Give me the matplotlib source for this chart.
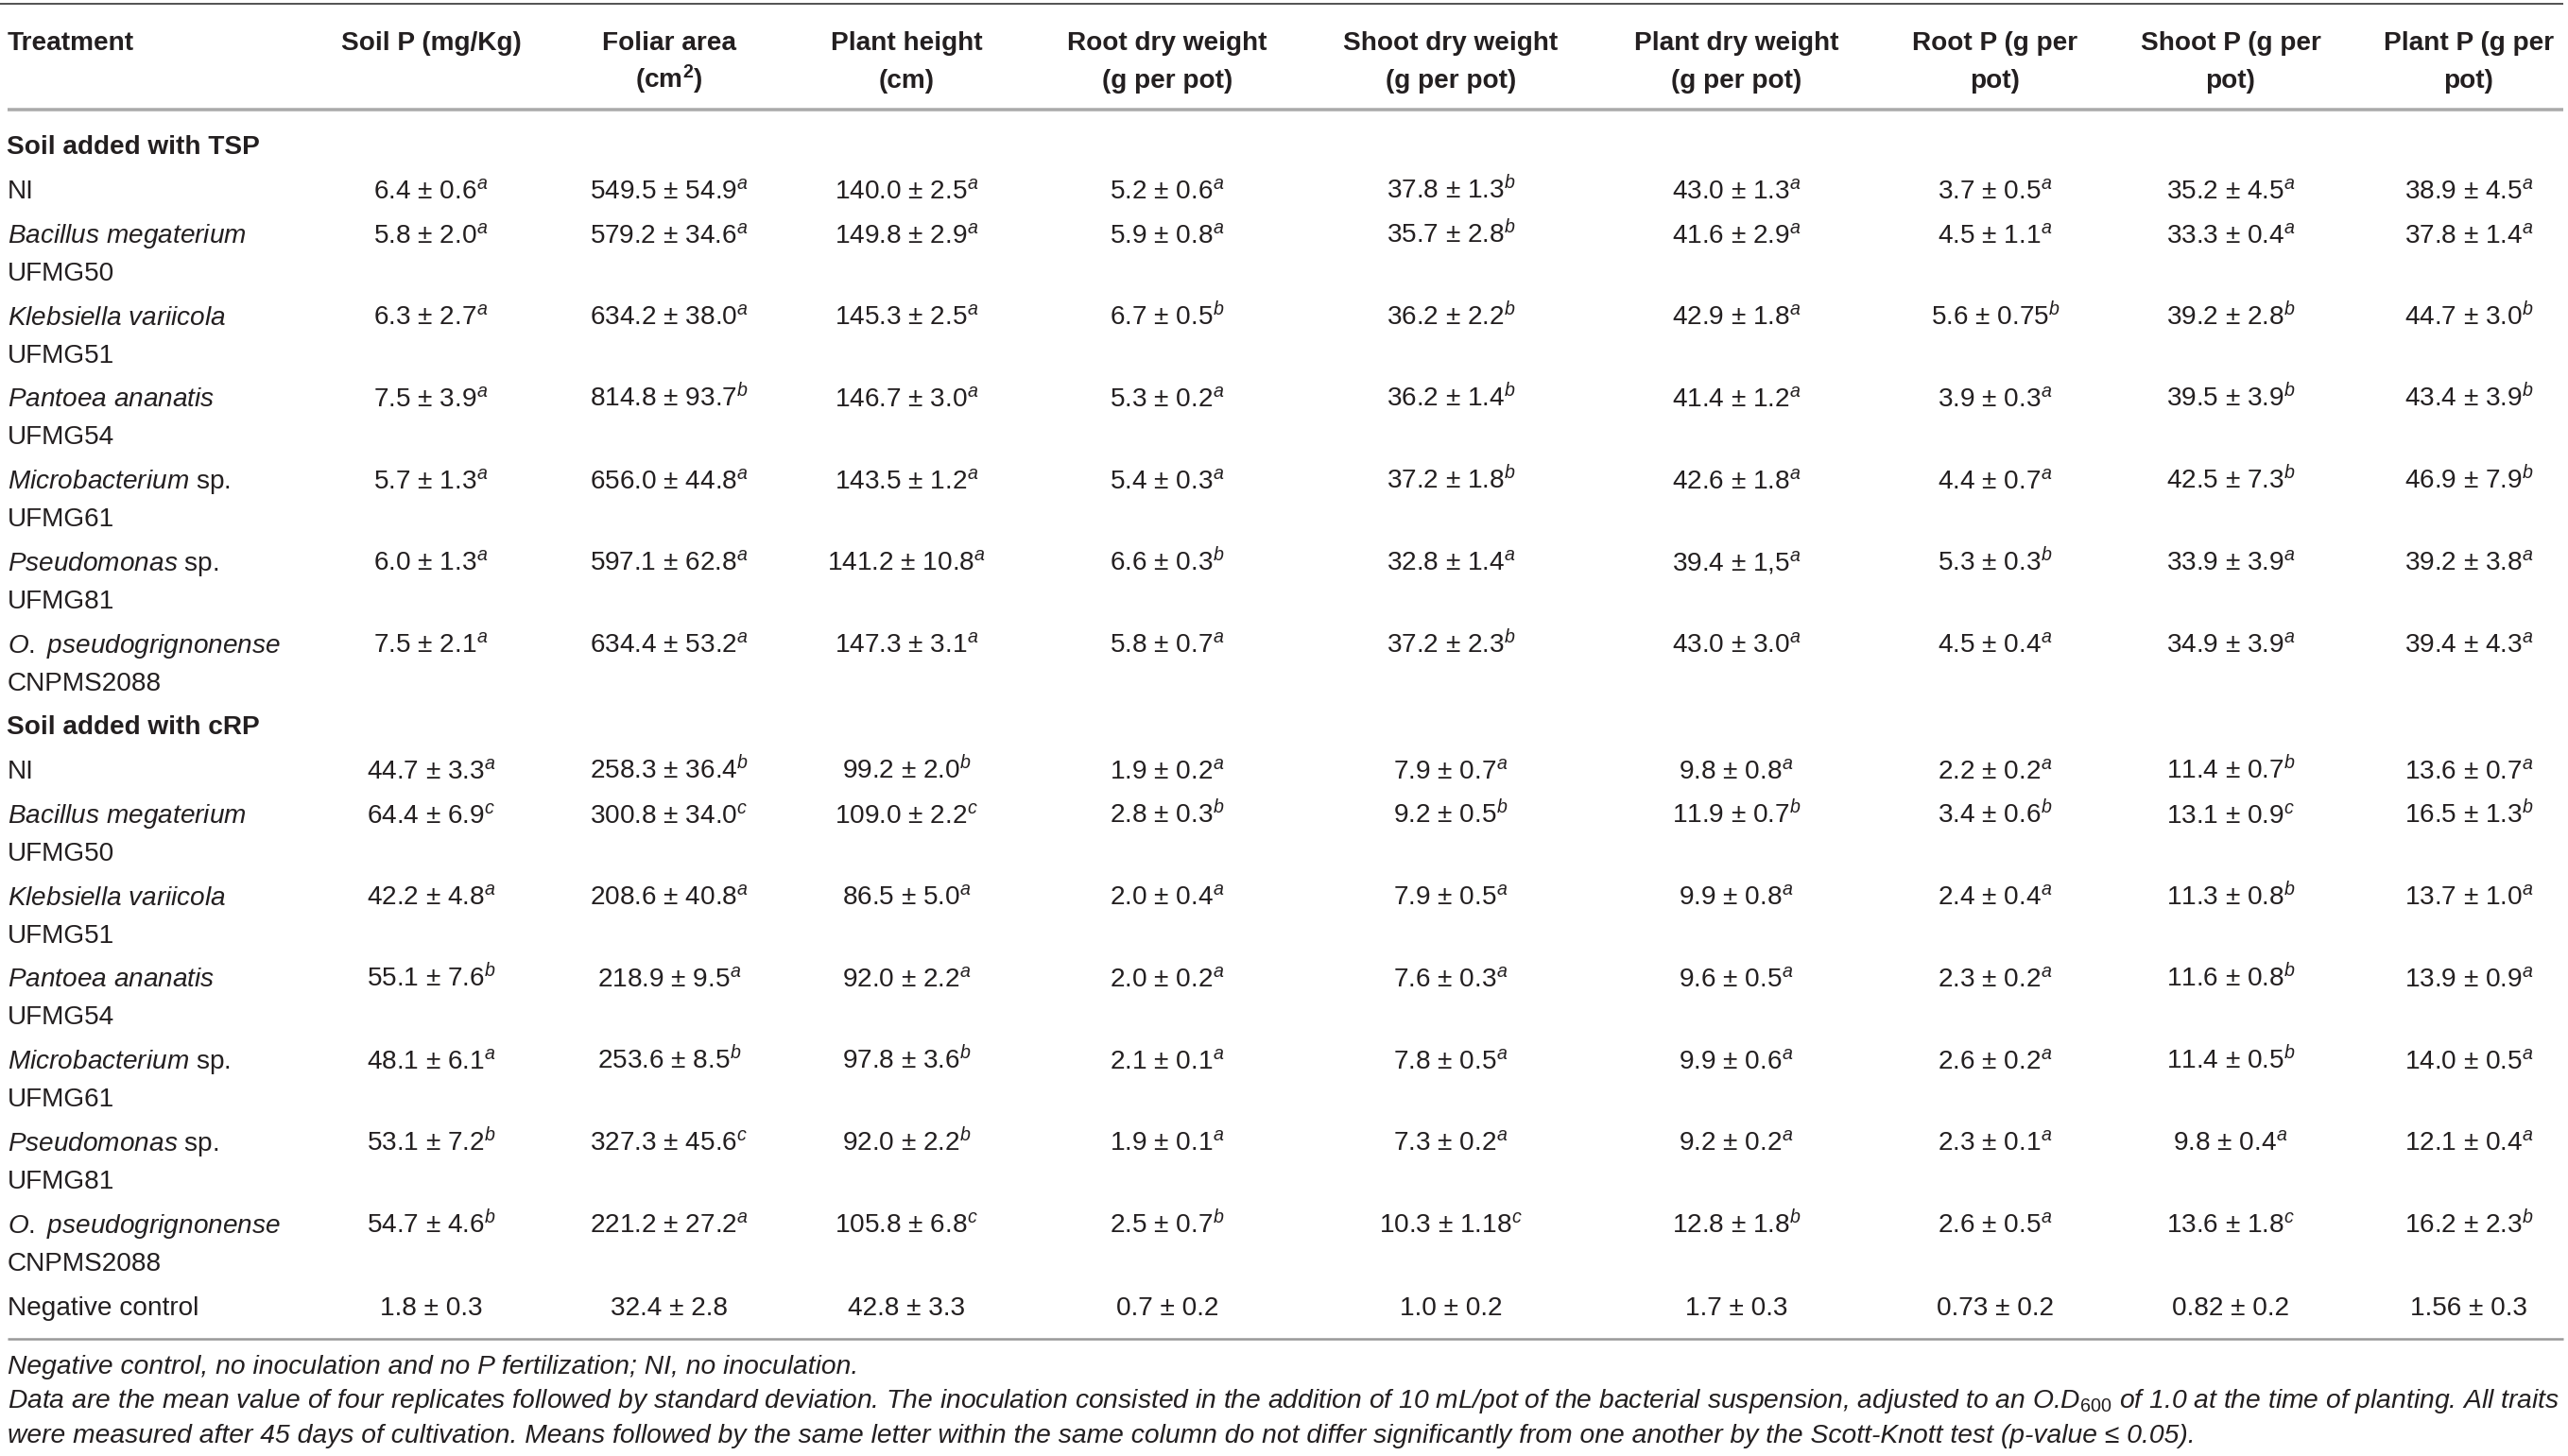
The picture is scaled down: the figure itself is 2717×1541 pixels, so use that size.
import matplotlib
matplotlib.use("Agg")
import matplotlib.pyplot as plt

plt.rcParams['font.family'] = ['Liberation Sans', 'DejaVu Sans']
plt.rcParams['mathtext.fontset'] = 'custom'
plt.rcParams['mathtext.rm'] = 'Liberation Sans'
plt.rcParams['mathtext.it'] = 'Liberation Sans:italic'
plt.rcParams['mathtext.bf'] = 'Liberation Sans:bold'
plt.rcParams['mathtext.default'] = 'it'

# ---------------- data ----------------
header_line1 = ["Soil P (mg/Kg)", "Foliar area", "Plant height", "Root dry weight",
                "Shoot dry weight", "Plant dry weight", "Root P (g per", "Shoot P (g per",
                "Plant P (g per"]
header_line2 = ["", r"(cm$^{\mathbf{2}}$)", "(cm)", "(g per pot)", "(g per pot)",
                "(g per pot)", "pot)", "pot)", "pot)"]

section_titles = ["Soil added with TSP", "Soil added with cRP"]

# treatment name (line 1, mathtext allowed), strain (line 2)
treat_line1 = ["NI", r"$\mathit{Bacillus\ megaterium}$", r"$\mathit{Klebsiella\ variicola}$",
               r"$\mathit{Pantoea\ ananatis}$", r"$\mathit{Microbacterium}$ sp.",
               r"$\mathit{Pseudomonas}$ sp.", r"$\mathit{O.\ pseudogrignonense}$"]
treat_line2 = ["", "UFMG50", "UFMG51", "UFMG54", "UFMG61", "UFMG81", "CNPMS2088"]
negative_label = "Negative control"

# each column: 7 TSP rows, 7 cRP rows, negative control (mean, sd, letter)
soil_p = [("6.4", "0.6", "a"), ("5.8", "2.0", "a"), ("6.3", "2.7", "a"), ("7.5", "3.9", "a"),
          ("5.7", "1.3", "a"), ("6.0", "1.3", "a"), ("7.5", "2.1", "a"),
          ("44.7", "3.3", "a"), ("64.4", "6.9", "c"), ("42.2", "4.8", "a"), ("55.1", "7.6", "b"),
          ("48.1", "6.1", "a"), ("53.1", "7.2", "b"), ("54.7", "4.6", "b"),
          ("1.8", "0.3", "")]
foliar_area = [("549.5", "54.9", "a"), ("579.2", "34.6", "a"), ("634.2", "38.0", "a"),
               ("814.8", "93.7", "b"), ("656.0", "44.8", "a"), ("597.1", "62.8", "a"),
               ("634.4", "53.2", "a"),
               ("258.3", "36.4", "b"), ("300.8", "34.0", "c"), ("208.6", "40.8", "a"),
               ("218.9", "9.5", "a"), ("253.6", "8.5", "b"), ("327.3", "45.6", "c"),
               ("221.2", "27.2", "a"),
               ("32.4", "2.8", "")]
plant_height = [("140.0", "2.5", "a"), ("149.8", "2.9", "a"), ("145.3", "2.5", "a"),
                ("146.7", "3.0", "a"), ("143.5", "1.2", "a"), ("141.2", "10.8", "a"),
                ("147.3", "3.1", "a"),
                ("99.2", "2.0", "b"), ("109.0", "2.2", "c"), ("86.5", "5.0", "a"),
                ("92.0", "2.2", "a"), ("97.8", "3.6", "b"), ("92.0", "2.2", "b"),
                ("105.8", "6.8", "c"),
                ("42.8", "3.3", "")]
root_dry = [("5.2", "0.6", "a"), ("5.9", "0.8", "a"), ("6.7", "0.5", "b"), ("5.3", "0.2", "a"),
            ("5.4", "0.3", "a"), ("6.6", "0.3", "b"), ("5.8", "0.7", "a"),
            ("1.9", "0.2", "a"), ("2.8", "0.3", "b"), ("2.0", "0.4", "a"), ("2.0", "0.2", "a"),
            ("2.1", "0.1", "a"), ("1.9", "0.1", "a"), ("2.5", "0.7", "b"),
            ("0.7", "0.2", "")]
shoot_dry = [("37.8", "1.3", "b"), ("35.7", "2.8", "b"), ("36.2", "2.2", "b"), ("36.2", "1.4", "b"),
             ("37.2", "1.8", "b"), ("32.8", "1.4", "a"), ("37.2", "2.3", "b"),
             ("7.9", "0.7", "a"), ("9.2", "0.5", "b"), ("7.9", "0.5", "a"), ("7.6", "0.3", "a"),
             ("7.8", "0.5", "a"), ("7.3", "0.2", "a"), ("10.3", "1.18", "c"),
             ("1.0", "0.2", "")]
plant_dry = [("43.0", "1.3", "a"), ("41.6", "2.9", "a"), ("42.9", "1.8", "a"), ("41.4", "1.2", "a"),
             ("42.6", "1.8", "a"), ("39.4", "1,5", "a"), ("43.0", "3.0", "a"),
             ("9.8", "0.8", "a"), ("11.9", "0.7", "b"), ("9.9", "0.8", "a"), ("9.6", "0.5", "a"),
             ("9.9", "0.6", "a"), ("9.2", "0.2", "a"), ("12.8", "1.8", "b"),
             ("1.7", "0.3", "")]
root_p = [("3.7", "0.5", "a"), ("4.5", "1.1", "a"), ("5.6", "0.75", "b"), ("3.9", "0.3", "a"),
          ("4.4", "0.7", "a"), ("5.3", "0.3", "b"), ("4.5", "0.4", "a"),
          ("2.2", "0.2", "a"), ("3.4", "0.6", "b"), ("2.4", "0.4", "a"), ("2.3", "0.2", "a"),
          ("2.6", "0.2", "a"), ("2.3", "0.1", "a"), ("2.6", "0.5", "a"),
          ("0.73", "0.2", "")]
shoot_p = [("35.2", "4.5", "a"), ("33.3", "0.4", "a"), ("39.2", "2.8", "b"), ("39.5", "3.9", "b"),
           ("42.5", "7.3", "b"), ("33.9", "3.9", "a"), ("34.9", "3.9", "a"),
           ("11.4", "0.7", "b"), ("13.1", "0.9", "c"), ("11.3", "0.8", "b"), ("11.6", "0.8", "b"),
           ("11.4", "0.5", "b"), ("9.8", "0.4", "a"), ("13.6", "1.8", "c"),
           ("0.82", "0.2", "")]
plant_p = [("38.9", "4.5", "a"), ("37.8", "1.4", "a"), ("44.7", "3.0", "b"), ("43.4", "3.9", "b"),
           ("46.9", "7.9", "b"), ("39.2", "3.8", "a"), ("39.4", "4.3", "a"),
           ("13.6", "0.7", "a"), ("16.5", "1.3", "b"), ("13.7", "1.0", "a"), ("13.9", "0.9", "a"),
           ("14.0", "0.5", "a"), ("12.1", "0.4", "a"), ("16.2", "2.3", "b"),
           ("1.56", "0.3", "")]

footnotes = [
    "Negative control, no inoculation and no P fertilization; NI, no inoculation.",
    "Data are the mean value of four replicates followed by standard deviation. The inoculation "
    "consisted in the addition of 10 mL/pot of the bacterial suspension, adjusted to an "
    r"O.D$_{\mathit{600}}$ of 1.0 at the time of planting. All traits",
    "were measured after 45 days of cultivation. Means followed by the same letter within the "
    "same column do not differ significantly from one another by the Scott-Knott test "
    "(p-value \u2264 0.05).",
]

columns = [soil_p, foliar_area, plant_height, root_dry, shoot_dry, plant_dry,
           root_p, shoot_p, plant_p]

# ---------------- layout ----------------
W, H = 2717, 1541
fig = plt.figure(figsize=(W / 100, H / 100), dpi=100)
ax = fig.add_axes([0, 0, 1, 1])
ax.set_xlim(0, W)
ax.set_ylim(H, 0)
ax.axis('off')

TXT = '#231f20'
FS = 20.2
FS_NOTE = 20.3
col_x = [456, 708, 959, 1235, 1535, 1837, 2111, 2360, 2612]
left_x = 8

def px(v):
    return v * 72 / 100

# rules
ax.plot([0, 2712], [4, 4], color='#555555', lw=px(2), solid_capstyle='butt')
ax.plot([8, 2712], [116, 116], color='#aaaaaa', lw=px(3.5), solid_capstyle='butt')
ax.plot([8, 2712], [1417, 1417], color='#999999', lw=px(2.5), solid_capstyle='butt')

# header
ax.text(left_x, 53, "Treatment", fontsize=FS, fontweight='bold', color=TXT,
        ha='left', va='baseline')
for x, h1, h2 in zip(col_x, header_line1, header_line2):
    ax.text(x, 53, h1, fontsize=FS, fontweight='bold', color=TXT, ha='center', va='baseline')
    if h2:
        ax.text(x, 93, h2, fontsize=FS, fontweight='bold', color=TXT, ha='center', va='baseline')

def value_str(t):
    m, s, l = t
    if l:
        return m + " \u00b1 " + s + r"$^{" + l + "}$"
    return m + " \u00b1 " + s

section_y = [163, 777]
row_first = [210, 824]
pitch_single = 47
pitch_double = 86.7
line2_off = 40

for si in range(2):
    ax.text(left_x - 1, section_y[si], section_titles[si], fontsize=FS, fontweight='bold',
            color=TXT, ha='left', va='baseline')
    y = row_first[si]
    for ri in range(len(treat_line1)):
        ax.text(left_x, y, treat_line1[ri], fontsize=FS, color=TXT, ha='left', va='baseline')
        if treat_line2[ri]:
            ax.text(left_x, y + line2_off, treat_line2[ri], fontsize=FS, color=TXT,
                    ha='left', va='baseline')
        idx = si * 7 + ri
        for x, col in zip(col_x, columns):
            ax.text(x, y, value_str(col[idx]), fontsize=FS, color=TXT,
                    ha='center', va='baseline')
        y += pitch_single if ri == 0 else pitch_double

# negative control
yn = 1392
ax.text(left_x, yn, negative_label, fontsize=FS, color=TXT, ha='left', va='baseline')
for x, col in zip(col_x, columns):
    ax.text(x, yn, value_str(col[14]), fontsize=FS, color=TXT, ha='center', va='baseline')

# footnotes
for y, t in zip([1454, 1490, 1527], footnotes):
    ax.text(left_x, y, t, fontsize=FS_NOTE, style='italic', color=TXT,
            ha='left', va='baseline')

fig.savefig("out.png", dpi=100)
